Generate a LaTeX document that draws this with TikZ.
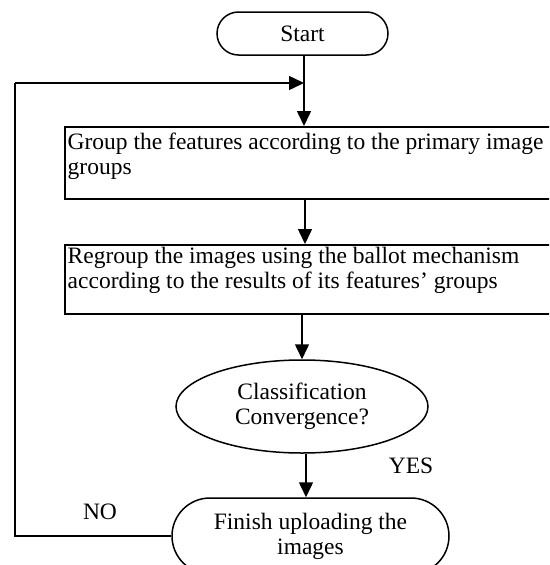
\documentclass[tikz,border=0pt]{standalone}
\usepackage{fontspec}
\setmainfont{Liberation Serif}
\usetikzlibrary{shapes.geometric,shapes.misc,arrows.meta}
\begin{document}
\begin{tikzpicture}[x=1pt,y=-1pt,
  every node/.style={font=\fontsize{23.5}{25}\selectfont},
  pline/.style={line width=1.5pt},
  arr/.style={pline,-{Triangle[length=15pt,width=14pt]}},
  termbox/.style={draw,pline,rounded rectangle,inner sep=0pt,align=center},
  procbox/.style={draw,pline,rectangle,inner sep=0pt,anchor=north west},
  boxtext/.style={inner sep=0pt,anchor=north west,align=left},
  decbox/.style={draw,pline,ellipse,inner sep=0pt,align=center},
  lbl/.style={inner sep=0pt}]
\useasboundingbox (0,0) rectangle (549,565);
\clip (0,0) rectangle (549,565);
\node[termbox,minimum width=171pt,minimum height=43pt] (s) at (302.5,33.5) {Start};
\node[procbox,minimum width=492pt,minimum height=72pt] (b1) at (64,126) {};
\node[boxtext] (b1t) at (67.5,132.5) {Group the features according to the primary image\\groups};
\node[procbox,minimum width=492pt,minimum height=69pt] (b2) at (64,244) {};
\node[boxtext] (b2t) at (67.5,246.5) {Regroup the images using the ballot mechanism\\according to the results of its features' groups};
\node[decbox,minimum width=252pt,minimum height=93pt] (d) at (302,406.5) {Classification\\Convergence?};
\node[termbox,minimum width=277pt,minimum height=76pt] (f) at (310.5,536) {Finish uploading the\\images};
\node[lbl] (yes) at (411,466) {YES};
\node[lbl] (no) at (100,512) {NO};
\coordinate (j) at (304,83);
\coordinate (c1) at (15,536);
\coordinate (c2) at (15,83);
\draw[arr] (s.south -| j) -- (j |- b1.north);
\draw[arr] (305,198) -- (305,244);
\draw[arr] (b2.south -| d.north) -- (d.north);
\draw[arr] (d.south) ++(4,0) coordinate (ds) (ds) -- (ds |- f.north);
\draw[pline] (f.west) -- (c1) -- (c2);
\draw[arr] (c2) -- (j);
\end{tikzpicture}
\end{document}
